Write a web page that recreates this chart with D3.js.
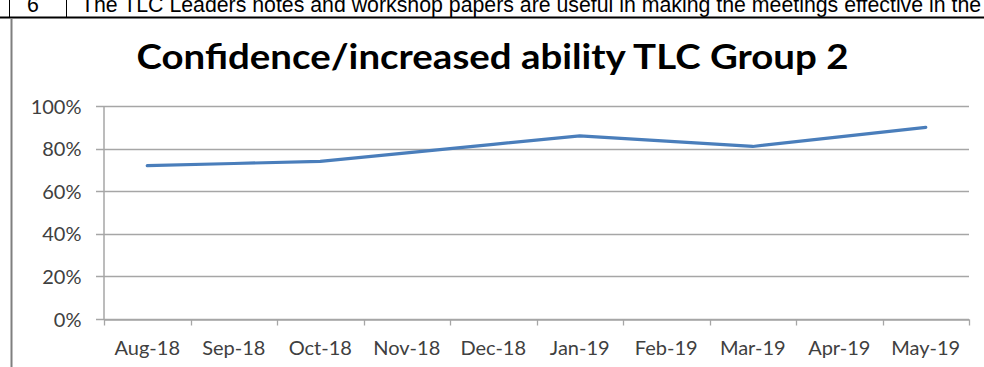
<!DOCTYPE html>
<html>
<head>
<meta charset="utf-8">
<script src="https://cdn.jsdelivr.net/npm/d3@7"></script>
<style>
  html, body { margin: 0; padding: 0; background: #fff; }
  svg { display: block; }
</style>
</head>
<body>
<svg id="chart" width="984" height="367"></svg>
<script>
// Monthly confidence scores, TLC Group 2
const months = ["Aug-18", "Sep-18", "Oct-18", "Nov-18", "Dec-18", "Jan-19", "Feb-19", "Mar-19", "Apr-19", "May-19"];
const confidence = [0.72, 0.73, 0.74, 0.78, 0.82, 0.86, 0.835, 0.81, 0.855, 0.90];
const yTicks = [0, 0.2, 0.4, 0.6, 0.8, 1.0];
const titleText = "Confidence/increased ability TLC Group 2";
const rowNumber = "6";
const rowText = "The TLC Leaders notes and workshop papers are useful in making the meetings effective in the";

const svg = d3.select("#chart");
const W = 984, H = 367;

// Table row above the chart (partly cut off at the top edge)
const strip = svg.append("g");
strip.append("text").attr("x", 27).attr("y", 12)
  .attr("font-family", "Liberation Sans, Arial, sans-serif").attr("font-size", 21.3)
  .attr("fill", "#000").text(rowNumber);
strip.append("text").attr("x", 81).attr("y", 12)
  .attr("font-family", "Liberation Sans, Arial, sans-serif").attr("font-size", 21.3)
  .attr("fill", "#000").text(rowText);
strip.append("line").attr("x1", 9.5).attr("x2", 9.5).attr("y1", 0).attr("y2", 17)
  .attr("stroke", "#000").attr("stroke-width", 1);
strip.append("line").attr("x1", 66.5).attr("x2", 66.5).attr("y1", 0).attr("y2", 17)
  .attr("stroke", "#000").attr("stroke-width", 1);
strip.append("line").attr("x1", 0).attr("x2", W).attr("y1", 17.5).attr("y2", 17.5)
  .attr("stroke", "#000").attr("stroke-width", 2);
// chart frame left edge
strip.append("line").attr("x1", 11.5).attr("x2", 11.5).attr("y1", 18).attr("y2", H)
  .attr("stroke", "#7f7f7f").attr("stroke-width", 2);

// Scales
const x = d3.scaleBand().domain(months).range([104, 969]);
const y = d3.scaleLinear().domain([0, 1]).range([319, 106]);

const labelFont = "Lato, 'Open Sans', sans-serif";

// Title
svg.append("text")
  .attr("x", (x.range()[0] + x.range()[1]) / 2 - 44)
  .attr("y", 69)
  .attr("text-anchor", "middle")
  .attr("font-family", labelFont)
  .attr("font-weight", "bold")
  .attr("font-size", 34)
  .attr("fill", "#000")
  .attr("textLength", 712)
  .attr("lengthAdjust", "spacingAndGlyphs")
  .text(titleText);

// Horizontal gridlines (they also serve as the y tick marks)
svg.append("g").selectAll("line").data(yTicks).join("line")
  .attr("x1", 96).attr("x2", x.range()[1])
  .attr("y1", d => Math.round(y(d)) + 0.5).attr("y2", d => Math.round(y(d)) + 0.5)
  .attr("stroke", "#a6a6a6").attr("stroke-width", 1.3);

// Y axis
const yAxis = svg.append("g").attr("transform", `translate(${x.range()[0] - 0.5},0)`)
  .call(d3.axisLeft(y).tickValues(yTicks).tickFormat(d3.format(".0%")).tickSize(0).tickPadding(22));
yAxis.select(".domain").attr("stroke", "#a6a6a6").attr("stroke-width", 1.5);
yAxis.selectAll("text").attr("font-family", labelFont).attr("font-size", 20).attr("fill", "#404040")
  .attr("dy", "0.35em");

// X axis: labels centred in each band, tick marks on band boundaries
const xAxis = svg.append("g").attr("transform", `translate(0,${Math.round(y(0)) + 0.5})`)
  .call(d3.axisBottom(x).tickSize(0).tickPadding(21));
xAxis.select(".domain").attr("stroke", "#a6a6a6").attr("stroke-width", 1.5);
xAxis.selectAll("text").attr("font-family", labelFont).attr("font-size", 20).attr("fill", "#404040");
const bounds = months.map(m => x(m)).concat([x.range()[1]]);
xAxis.append("g").selectAll("line").data(bounds).join("line")
  .attr("x1", d => Math.round(d) + 0.5).attr("x2", d => Math.round(d) + 0.5)
  .attr("y1", 0).attr("y2", 6)
  .attr("stroke", "#a6a6a6").attr("stroke-width", 1.3);

// Series line
const line = d3.line()
  .x((d, i) => x(months[i]) + x.bandwidth() / 2)
  .y(d => y(d));
svg.append("path").datum(confidence)
  .attr("d", line)
  .attr("fill", "none")
  .attr("stroke", "#4a7ebb")
  .attr("stroke-width", 3.2)
  .attr("stroke-linecap", "round")
  .attr("stroke-linejoin", "round");
</script>
</body>
</html>
